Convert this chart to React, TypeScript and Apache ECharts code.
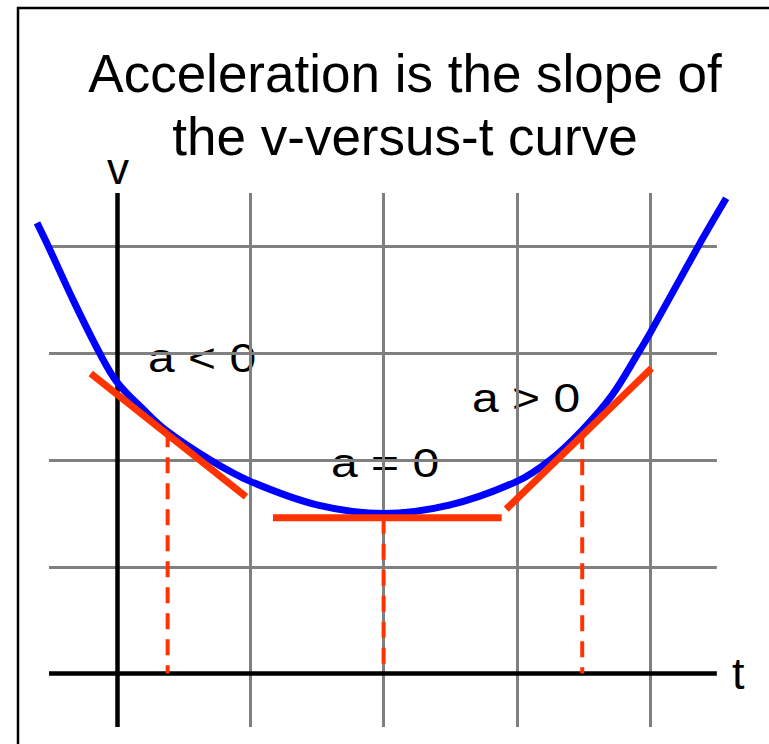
import React, { useEffect, useRef } from "react";
import * as echarts from "echarts";

// Blue v-versus-t curve (t, v)
const curveT = [-0.6, -0.515, -0.33, -0.13, 0, 0.2, 0.375, 0.7, 1.0, 1.5, 2.0, 2.5, 3.0, 3.25, 3.49, 3.71, 3.91, 4.0, 4.36, 4.57];
const curveV = [4.22, 4.0, 3.5, 3.0, 2.73, 2.47, 2.27, 2.0, 1.8, 1.58, 1.5, 1.58, 1.8, 2.0, 2.28, 2.6, 3.0, 3.19, 4.0, 4.45];

// Tangent lines
const leftTanT = [-0.197, 0.968];
const leftTanV = [2.81, 1.656];
const midTanT = [1.17, 2.886];
const midTanV = [1.46, 1.46];
const rightTanT = [2.92, 4.01];
const rightTanV = [1.54, 2.86];

// Dashed drop lines
const dropT = [0.38, 2.0, 3.49];
const dropV = [2.27, 1.46, 2.25];

// Grid lines and drawn extent of the plot
const gridT = [1, 2, 3, 4];
const gridV = [1, 2, 3, 4];
const tRange = [-0.51, 4.5];
const vRange = [-0.5, 4.5];

const titleLines = ["Acceleration is the slope of", "the v-versus-t curve"];
const labels = ["a < 0", "a = 0", "a > 0"];

const RED = "#ff3300";
const FONT = '"Liberation Sans", Arial, Helvetica, sans-serif';

// pixel mapping of the full-page grid
const W = 769;
const H = 744;
const X0 = 117; // px of t = 0
const XU = 133.3; // px per unit t
const Y0 = 673.6; // px of v = 0
const YU = 106.8; // px per unit v

function pairs(ts: number[], vs: number[]) {
  return ts.map((t, i) => [t, vs[i]]);
}

function txt(text: string, x: number, y: number, size: number, align: string, scaleX = 1) {
  return {
    type: "text",
    x,
    y,
    scaleX,
    z: 0,
    style: {
      text,
      x: 0,
      y: 0,
      font: `${size}px ${FONT}`,
      fill: "#000",
      textAlign: align,
      align,
      textVerticalAlign: "middle",
      verticalAlign: "middle",
    },
  };
}

export default function App() {
  const ref = useRef<HTMLDivElement>(null);
  useEffect(() => {
    if (!ref.current) return;
    const chart = echarts.init(ref.current, undefined, { renderer: "svg" });
    const tangentStyle = { color: RED, width: 7, cap: "butt" };
    const gridStyle = { color: "#808080", width: 3, type: "solid" };
    const axisStyle = { color: "#000", width: 4.5, type: "solid" };
    const vSeg = (t: number, style: any) => [
      { coord: [t, vRange[0]], lineStyle: style },
      { coord: [t, vRange[1]] },
    ];
    const hSeg = (v: number, style: any) => [
      { coord: [tRange[0], v], lineStyle: style },
      { coord: [tRange[1], v] },
    ];
    const option: any = {
      animation: false,
      backgroundColor: "#fff",
      grid: { left: 0, right: 0, top: 0, bottom: 0 },
      xAxis: {
        type: "value",
        min: -X0 / XU,
        max: (W - X0) / XU,
        show: false,
        splitLine: { show: false },
      },
      yAxis: {
        type: "value",
        min: -(H - Y0) / YU,
        max: Y0 / YU,
        show: false,
        splitLine: { show: false },
      },
      graphic: [
        {
          type: "rect",
          z: 0,
          shape: { x: 18, y: 8, width: 800, height: 800 },
          style: { fill: "none", stroke: "#000", lineWidth: 2.5 },
        },
        txt(titleLines[0], 405, 73, 53, "center"),
        txt(titleLines[1], 405, 136, 53, "center"),
        txt("v", 118, 168, 44, "center"),
        txt("t", 732, 673, 45, "left"),
        txt(labels[0], 148, 358, 40, "left", 1.2),
        txt(labels[1], 331, 463, 40, "left", 1.2),
        txt(labels[2], 472, 398, 40, "left", 1.2),
      ],
      series: [
        {
          type: "line",
          z: 1,
          data: [[0, 0]],
          symbol: "none",
          lineStyle: { opacity: 0 },
          silent: true,
          markLine: {
            z: 1,
            silent: true,
            symbol: "none",
            label: { show: false },
            data: [
              ...gridT.map((t) => vSeg(t, gridStyle)),
              ...gridV.map((v) => hSeg(v, gridStyle)),
              vSeg(0, axisStyle),
              hSeg(0, axisStyle),
            ],
          },
        },
        ...dropT.map((t, i) => ({
          type: "line",
          z: 2,
          data: [[t, dropV[i]], [t, 0]],
          symbol: "none",
          lineStyle: { color: RED, width: 4, type: [16, 10] },
        })),
        {
          type: "line",
          z: 3,
          data: pairs(curveT, curveV),
          smooth: 0.35,
          symbol: "none",
          lineStyle: { color: "#0000ff", width: 7 },
        },
        {
          type: "line",
          z: 4,
          data: pairs(leftTanT, leftTanV),
          symbol: "none",
          lineStyle: tangentStyle,
        },
        {
          type: "line",
          z: 4,
          data: pairs(midTanT, midTanV),
          symbol: "none",
          lineStyle: tangentStyle,
        },
        {
          type: "line",
          z: 4,
          data: pairs(rightTanT, rightTanV),
          symbol: "none",
          lineStyle: tangentStyle,
        },
      ],
    };
    chart.setOption(option);
    return () => chart.dispose();
  }, []);
  return (
    <div
      ref={ref}
      style={{ position: "fixed", left: 0, top: 0, width: W, height: H, background: "#fff" }}
    />
  );
}
